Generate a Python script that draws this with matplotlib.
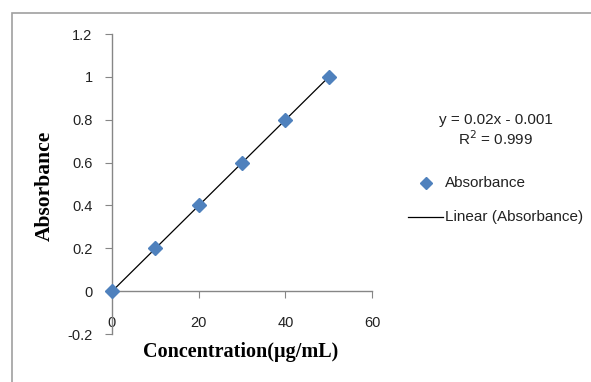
import matplotlib
matplotlib.use("Agg")
import matplotlib.pyplot as plt
from matplotlib.lines import Line2D
from matplotlib.patches import Rectangle
import numpy as np

conc = [0, 10, 20, 30, 40, 50]
absorbance = [0.0, 0.2, 0.4, 0.6, 0.8, 1.0]
slope = 0.02
intercept = -0.001
r2 = 0.999
xticks = [0, 20, 40, 60]
yticks = [-0.2, 0, 0.2, 0.4, 0.6, 0.8, 1.0, 1.2]
ytick_labels = ["-0.2", "0", "0.2", "0.4", "0.6", "0.8", "1", "1.2"]

W, H = 591, 382
fig = plt.figure(figsize=(W / 100, H / 100), dpi=100)
fig.patch.set_facecolor("white")

# outer chart border
fig.add_artist(Rectangle((12 / W, -0.05), 1.1, (H - 13) / H + 0.05,
                         transform=fig.transFigure, fill=False,
                         edgecolor="#a0a0a0", linewidth=1.2))

ax = fig.add_axes([112 / W, (H - 334) / H, (372 - 112) / W, (334 - 34) / H])
ax.set_xlim(0, 60)
ax.set_ylim(-0.2, 1.2)

tick_font = {"family": "Liberation Sans", "size": 10.5}

ax.spines["top"].set_visible(False)
ax.spines["right"].set_visible(False)
ax.spines["bottom"].set_position(("data", 0))
for s in ("left", "bottom"):
    ax.spines[s].set_color("#868686")
    ax.spines[s].set_linewidth(1.0)

ax.set_xticks(xticks)
ax.set_xticklabels([str(t) for t in xticks], fontdict=tick_font)
ax.set_yticks(yticks)
ax.set_yticklabels(ytick_labels, fontdict=tick_font)
ax.tick_params(axis="x", direction="out", length=5, color="#868686", pad=13, labelcolor="#222222")
ax.tick_params(axis="y", direction="out", length=5, color="#868686", pad=9, labelcolor="#222222")

xs = np.array([min(conc), max(conc)])
ax.plot(xs, slope * xs + intercept, color="black", linewidth=0.9, zorder=2)
ax.plot(conc, absorbance, linestyle="none", marker="D", markersize=7.5,
        color="#4F81BD", markeredgecolor="#4F81BD", zorder=3, clip_on=False)

fig.text(45 / W, 1 - 186 / H, "Absorbance", rotation=90, ha="center", va="center",
         family="Liberation Serif", fontweight="bold", fontsize=15.5)
fig.text(241 / W, 1 - 352 / H, "Concentration(\u00b5g/mL)", ha="center", va="center",
         family="Liberation Serif", fontweight="bold", fontsize=14.5)

legend_font = "Liberation Sans"
fs = 11
fig.text(496 / W, 1 - 120 / H, f"y = {slope}x - {abs(intercept)}", ha="center", va="center",
         family=legend_font, fontsize=fs, color="#222222")
fig.text(496 / W, 1 - 139 / H, f"R$^2$ = {r2}", ha="center", va="center",
         family=legend_font, fontsize=fs, color="#222222")

fig.add_artist(Line2D([426 / W], [1 - 183 / H], marker="D", markersize=6.5, color="#4F81BD",
                      linestyle="none", transform=fig.transFigure))
fig.text(445 / W, 1 - 183 / H, "Absorbance", ha="left", va="center",
         family=legend_font, fontsize=fs, color="#222222")
fig.add_artist(Line2D([408 / W, 443 / W], [1 - 217 / H, 1 - 217 / H], color="black",
                      linewidth=0.9, transform=fig.transFigure))
fig.text(445 / W, 1 - 217 / H, "Linear (Absorbance)", ha="left", va="center",
         family=legend_font, fontsize=fs, color="#222222")

fig.savefig("out.png", dpi=100)
